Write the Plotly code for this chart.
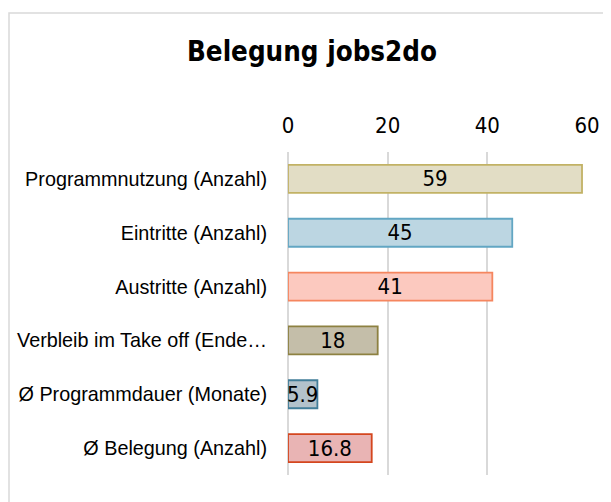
import plotly.graph_objects as go

categories = [
    "Programmnutzung (Anzahl)",
    "Eintritte (Anzahl)",
    "Austritte (Anzahl)",
    "Verbleib im Take off (Ende…",
    "Ø Programmdauer (Monate)",
    "Ø Belegung (Anzahl)",
]
values = [59, 45, 41, 18, 5.9, 16.8]
value_labels = ["59", "45", "41", "18", "5.9", "16.8"]
tick_values = [0, 20, 40, 60]
fill_colors = ["#e2ddc5", "#bcd6e2", "#fcc9bf", "#c4bea9", "#b3c2cb", "#e9b4b4"]
line_colors = ["#c2b265", "#62a6c3", "#f5865f", "#8d8141", "#427e99", "#d4461e"]

# the page body has an 8px default margin, so the figure is drawn 8px smaller
OFF = 8
W, H = 611 - OFF, 502 - OFF
L, R, T, B = 288 - OFF, 24, 152 - OFF, 27

fig = go.Figure()
fig.add_trace(go.Bar(
    y=categories,
    x=values,
    orientation="h",
    text=value_labels,
    textposition="inside",
    insidetextanchor="middle",
    textangle=0,
    textfont=dict(family="DejaVu Sans Condensed, DejaVu Sans", size=22, color="#000000"),
    marker=dict(color=fill_colors, line=dict(color=line_colors, width=1.8)),
    hoverinfo="skip",
))

pw = W - L - R
ph = H - T - B
fig.add_shape(
    type="rect", xref="paper", yref="paper",
    x0=(1 - L) / pw, x1=(W + 10 - L) / pw,
    y0=-(B + 10) / ph, y1=(H - (13 - OFF) - B) / ph,
    line=dict(color="#d9d9d9", width=1.5), fillcolor="rgba(0,0,0,0)", layer="below",
)

fig.update_layout(
    width=W, height=H,
    margin=dict(l=L, r=R, t=T, b=B, pad=0, autoexpand=False),
    paper_bgcolor="#ffffff", plot_bgcolor="#ffffff",
    showlegend=False,
    bargap=0.48,
    uniformtext=dict(minsize=22, mode="show"),
    title=dict(
        text="<b>Belegung jobs2do</b>",
        x=(312 - OFF) / W, xanchor="center",
        y=1 - (51 - OFF) / H, yanchor="middle",
        font=dict(family="DejaVu Sans Condensed, DejaVu Sans", size=27.5, color="#000000"),
    ),
    xaxis=dict(
        side="top", range=[0, 60], tickvals=tick_values, automargin=False,
        showgrid=True, gridcolor="#d9d9d9", gridwidth=2,
        zeroline=True, zerolinecolor="#d9d9d9", zerolinewidth=2,
        showline=False, ticks="", ticklabelstandoff=14,
        tickfont=dict(family="DejaVu Sans Condensed, DejaVu Sans", size=22, color="#000000"),
        fixedrange=True,
    ),
    yaxis=dict(
        autorange="reversed", showgrid=False, zeroline=False, showline=False,
        ticks="", ticklabelstandoff=20, automargin=False,
        tickfont=dict(family="Liberation Sans, Arial", size=19.8, color="#000000"),
        fixedrange=True,
    ),
)

fig.write_html("out.html")
